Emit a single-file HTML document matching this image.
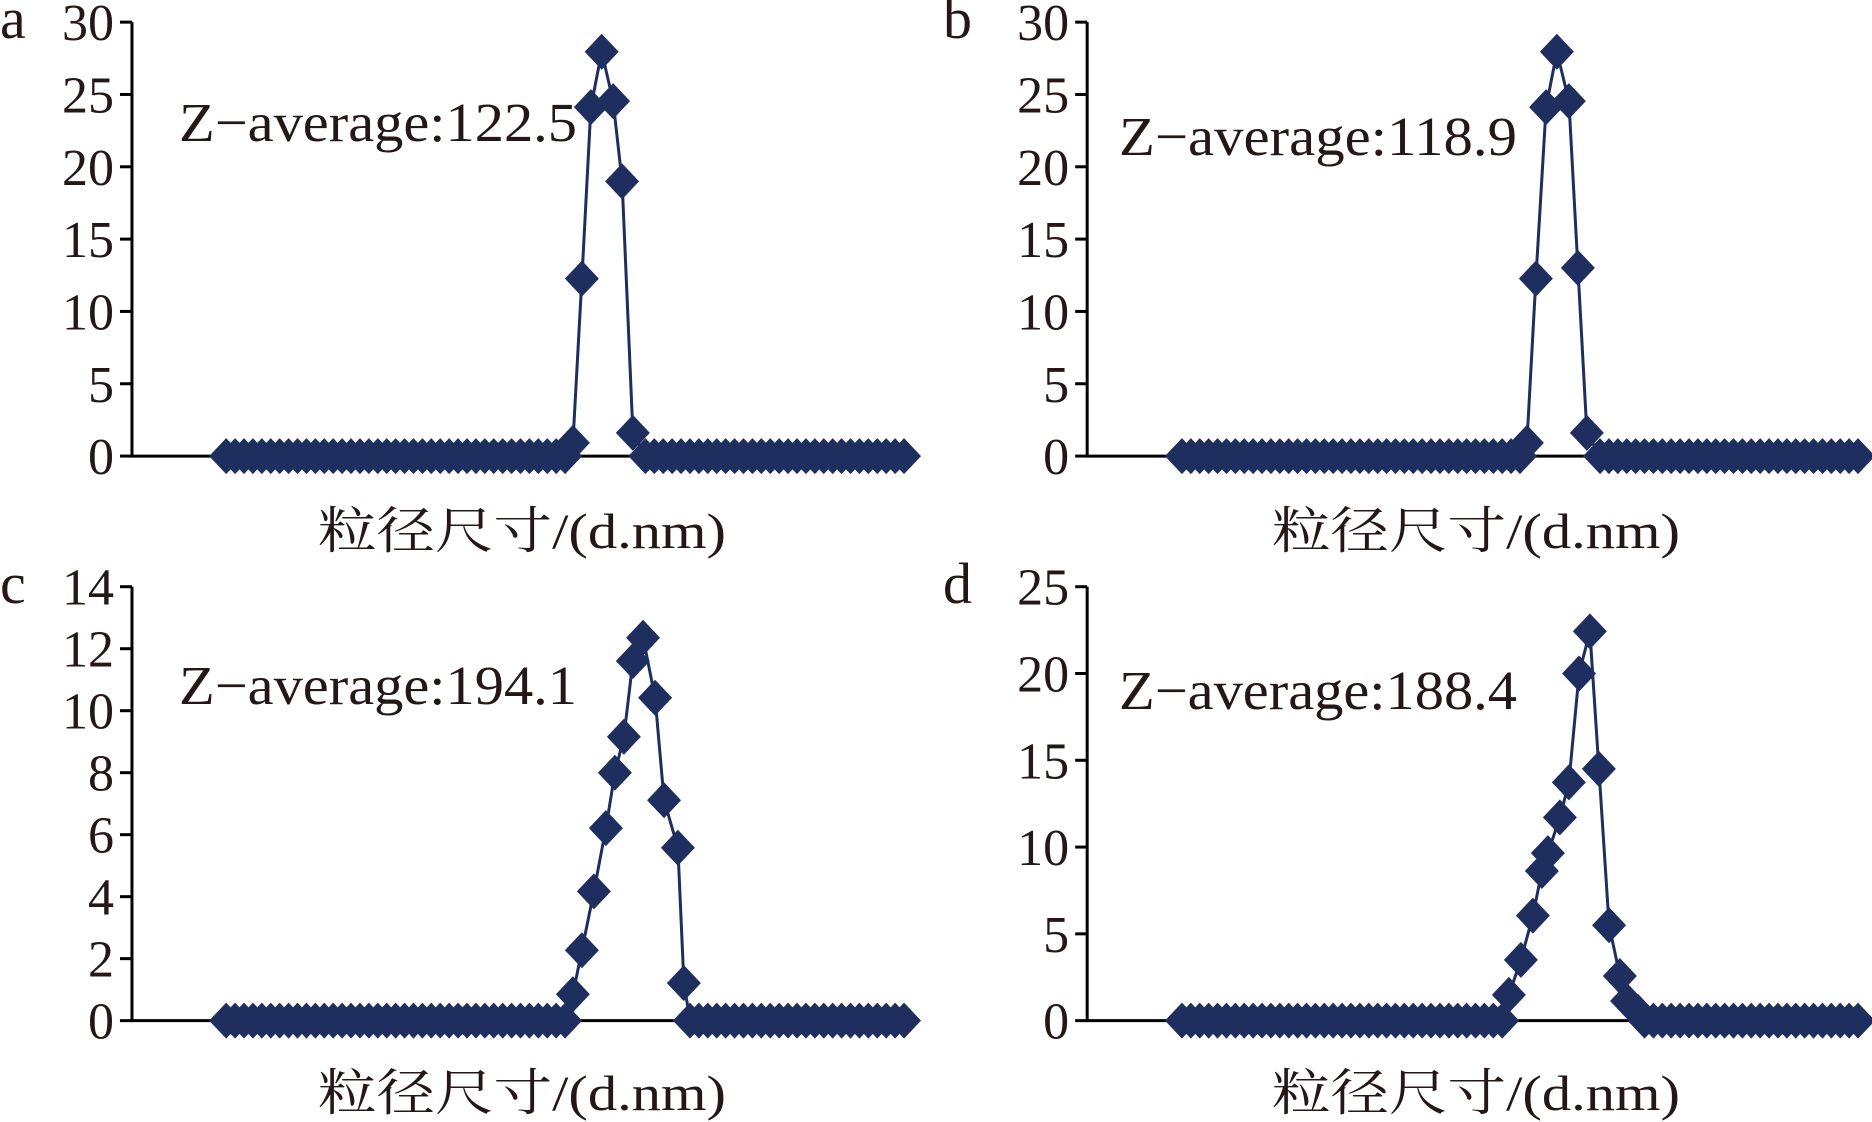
<!DOCTYPE html>
<html><head><meta charset="utf-8"><style>
html,body{margin:0;padding:0;background:#fff;}
svg{display:block;}
text{fill:#231815;font-family:"Liberation Serif","Noto Serif CJK SC",serif;}
</style></head><body>
<svg id="s" width="1872" height="1122" viewBox="0 0 1872 1122" xmlns="http://www.w3.org/2000/svg"></svg>
<script>
const S=document.getElementById('s');let h='';
const C='#1e2f5f';
function panel(o){
  const ox=o.ox, oy=o.oy;
  const X=zx=>ox+zx/1.667, Y=zy=>oy+zy/2.8;
  const ax=X(o.axz), y0=Y(o.zeroz), yt=Y(o.topz);
  h+=`<line x1="${ax}" y1="${yt}" x2="${ax}" y2="${y0}" stroke="#000" stroke-width="3"/>`;
  h+=`<line x1="${ax-1.5}" y1="${y0}" x2="${X(o.zeroEnd)+5}" y2="${y0}" stroke="#000" stroke-width="3"/>`;
  const n=o.labels.length-1;
  for(let i=0;i<=n;i++){
    const y=y0-(y0-yt)*i/n;
    h+=`<line x1="${ax-12}" y1="${y}" x2="${ax}" y2="${y}" stroke="#000" stroke-width="3"/>`;
    h+=`<text x="${ax-18}" y="${y+18}" font-size="52" text-anchor="end">${o.labels[i]}</text>`;
  }
  h+=`<text x="${o.lx}" y="${o.ly}" font-size="58">${o.letter}</text>`;
  h+=`<text x="${o.zx}" y="${o.zy}" font-size="55" textLength="398" lengthAdjust="spacingAndGlyphs">Z−average:${o.z}</text>`;
  h+=`<text x="${o.tx}" y="${o.ty}" font-size="50" textLength="408" lengthAdjust="spacingAndGlyphs">粒径尺寸/(d.nm)</text>`;
  const pk=o.peak.map(p=>[X(p[0]),Y(p[1])]);
  const x1=X(o.zeroStart), x2=X(o.zeroEnd), N=76;
  const lo=pk[0][0]-6, hi=pk[pk.length-1][0]+6;
  let pts=[];
  for(let i=0;i<=N;i++){const x=x1+(x2-x1)*i/N; if(x<lo||x>hi) pts.push([x,y0]);}
  pts=pts.concat(pk).sort((a,b)=>a[0]-b[0]);
  h+=`<polyline fill="none" stroke="${C}" stroke-width="3" stroke-linejoin="round" points="${pts.map(p=>p[0].toFixed(1)+','+p[1].toFixed(1)).join(' ')}"/>`;
  for(const p of pts){
    h+=`<polygon fill="${C}" points="${p[0]},${p[1]-18} ${p[0]+17},${p[1]} ${p[0]},${p[1]+18} ${p[0]-17},${p[1]}"/>`;
  }
}
panel({ox:0,oy:0,axz:220,zeroz:1277,topz:62,labels:['0','5','10','15','20','25','30'],
  letter:'a',lx:0,ly:38,z:'122.5',zx:179,zy:141,tx:318,ty:548,zeroStart:377,zeroEnd:1507,
  peak:[[955,1240],[970,780],[985,300],[1003,145],[1022,283],[1037,508],[1055,1212]]});
panel({ox:936,oy:0,axz:252,zeroz:1277,topz:62,labels:['0','5','10','15','20','25','30'],
  letter:'b',lx:943,ly:38,z:'118.9',zx:1119,zy:155,tx:1272,ty:548,zeroStart:410,zeroEnd:1537,
  peak:[[985,1240],[1000,780],[1017,300],[1035,145],[1055,283],[1070,750],[1085,1212]]});
panel({ox:0,oy:561,axz:220,zeroz:1287,topz:72,labels:['0','2','4','6','8','10','12','14'],
  letter:'c',lx:0,ly:603,z:'194.1',zx:179,zy:704,tx:318,ty:1110,zeroStart:377,zeroEnd:1507,
  peak:[[955,1213],[970,1090],[990,925],[1010,748],[1025,593],[1040,492],[1055,280],[1072,215],[1092,383],[1107,670],[1130,803],[1140,1182]]});
panel({ox:936,oy:561,axz:252,zeroz:1287,topz:72,labels:['0','5','10','15','20','25'],
  letter:'d',lx:943,ly:603,z:'188.4',zx:1119,zy:709,tx:1272,ty:1110,zeroStart:410,zeroEnd:1537,
  peak:[[955,1215],[975,1117],[995,993],[1010,868],[1020,818],[1040,718],[1055,620],[1072,315],[1090,197],[1105,582],[1122,1020],[1140,1162],[1152,1232],[1170,1262]]});
S.innerHTML=h;
</script>
</body></html>
